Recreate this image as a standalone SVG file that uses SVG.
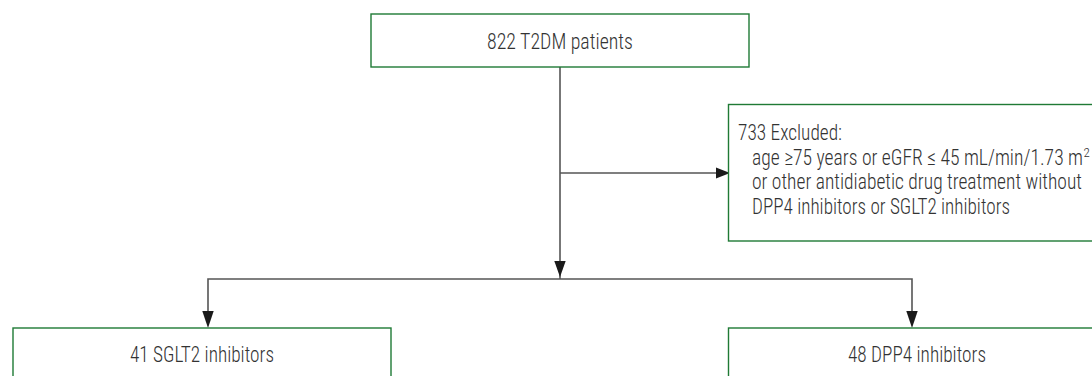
<svg xmlns="http://www.w3.org/2000/svg" width="1092" height="376" viewBox="0 0 1092 376">
  <style>
    .box { fill: #ffffff; stroke: #1f7a35; stroke-width: 1.4; }
    .lbl { font-family: "Roboto Condensed", "Liberation Sans Narrow", "Liberation Sans", Arial, sans-serif; font-size: 22px; font-weight: 300; fill: #333333; }
    .sup { font-size: 13px; }
    .mid { text-anchor: middle; }
    .link { fill: none; stroke: #555555; stroke-width: 1.6; }
    .head { fill: #1a1a1a; }
  </style>

  <rect width="1092" height="376" fill="#ffffff"/>

  <!-- connectors: trunk, exclusion branch, split to both arms -->
  <g id="connectors">
    <path class="link" d="M560,67 V279"/>
    <path class="head" d="M554.3,261 L565.7,261 L560,277 Z"/>
    <path class="link" d="M560,173 H716"/>
    <path class="head" d="M716,167.5 L730,173 L716,178.5 Z"/>
    <path class="link" d="M208,311 V279 H912 V311"/>
    <path class="head" d="M202.3,311 L213.7,311 L208,328 Z"/>
    <path class="head" d="M906.3,311 L917.7,311 L912,328 Z"/>
  </g>

  <g id="node-total">
    <rect class="box" x="371" y="14" width="378" height="53"/>
    <text class="lbl mid" x="560" y="49" textLength="146" lengthAdjust="spacingAndGlyphs">822 T2DM patients</text>
  </g>

  <g id="node-excluded">
    <rect class="box" x="728.5" y="104.5" width="380" height="136.5"/>
    <text class="lbl" x="738" y="140" textLength="104" lengthAdjust="spacingAndGlyphs">733 Excluded:</text>
    <text class="lbl" x="752" y="164.5"><tspan textLength="331" lengthAdjust="spacingAndGlyphs">age  ≥75 years or eGFR  ≤ 45 mL/min/1.73 m</tspan><tspan class="sup" dx="0.5" dy="-8">2</tspan></text>
    <text class="lbl" x="752" y="189" textLength="330" lengthAdjust="spacingAndGlyphs">or other antidiabetic drug treatment without</text>
    <text class="lbl" x="752" y="213.5" textLength="258" lengthAdjust="spacingAndGlyphs">DPP4 inhibitors or SGLT2 inhibitors</text>
  </g>

  <g id="node-sglt2">
    <rect class="box" x="13" y="328" width="378" height="60"/>
    <text class="lbl mid" x="202" y="362" textLength="144" lengthAdjust="spacingAndGlyphs">41 SGLT2 inhibitors</text>
  </g>

  <g id="node-dpp4">
    <rect class="box" x="728.5" y="328" width="380" height="60"/>
    <text class="lbl mid" x="917" y="362" textLength="138" lengthAdjust="spacingAndGlyphs">48 DPP4 inhibitors</text>
  </g>
</svg>
